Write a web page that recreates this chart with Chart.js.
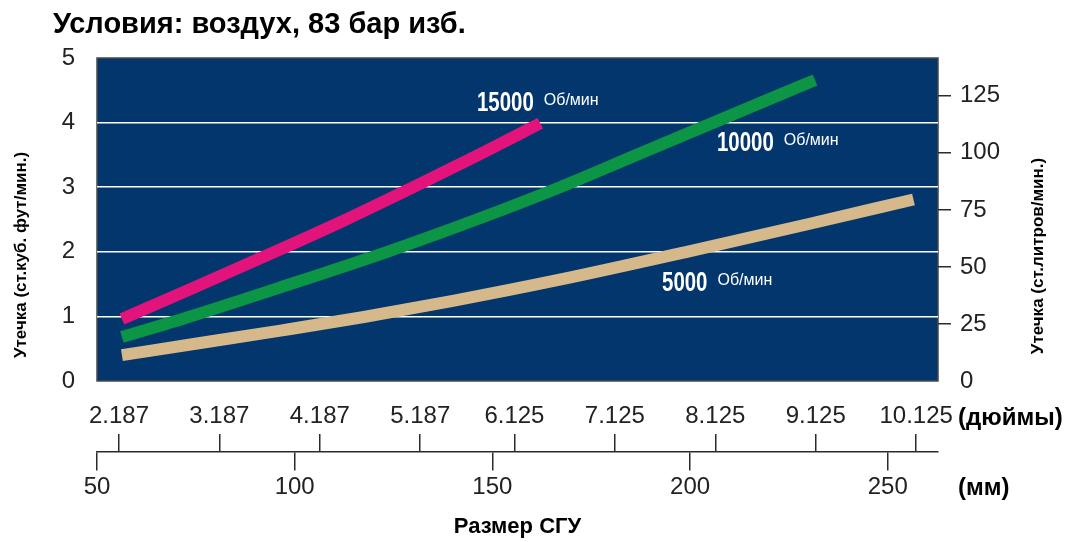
<!DOCTYPE html>
<html>
<head>
<meta charset="utf-8">
<script src="https://cdn.jsdelivr.net/npm/chart.js@4.4.1/dist/chart.umd.min.js"></script>
<style>
  html, body { margin: 0; padding: 0; background: #fff; }
</style>
</head>
<body>
<canvas id="leakChart" width="1070" height="542"></canvas>
<script>
// seal size in mm, leakage in std cu ft/min
const pinkMm = [56.3, 75, 95, 113, 130, 146.5, 162.1];
const pinkCfm = [0.96, 1.46, 2.0, 2.5, 3.0, 3.5, 3.99];
const greenMm = [56.3, 73.6, 96.4, 123.4, 146, 167.1, 186.5, 205.9, 231.6];
const greenCfm = [0.68, 1.0, 1.45, 2.0, 2.5, 3.0, 3.5, 4.0, 4.66];
const tanMm = [56.3, 75.3, 96.4, 117.5, 140, 166.4, 199.2, 230, 256.5];
const tanCfm = [0.40, 0.58, 0.78, 0.99, 1.24, 1.56, 2.0, 2.43, 2.81];

const seriesNames = ['15000', '10000', '5000'];
const rpmUnit = 'Об/мин';

const cfmTicks = [0, 1, 2, 3, 4, 5];
const literTicks = [0, 25, 50, 75, 100, 125];
const mmTicks = [50, 100, 150, 200, 250];
const inchLabels = ['2.187', '3.187', '4.187', '5.187', '6.125', '7.125', '8.125', '9.125', '10.125'];
const inchValues = [2.187, 3.187, 4.187, 5.187, 6.125, 7.125, 8.125, 9.125, 10.125];

const MM_PER_INCH = 25.4;
const LITERS_PER_CFM = 28.3168;

const sans = "'Liberation Sans', Arial, sans-serif";
const axisColor = '#2b2b2b';
const tickFont = { family: sans, size: 24 };

function toPoints(xs, ys) {
    return xs.map((x, i) => ({ x: x, y: ys[i] }));
}

// label anchors in data units (mm, cfm)
const seriesLabels = [
    { name: seriesNames[0], mm: 146.1, cfm: 4.3 },
    { name: seriesNames[1], mm: 206.8, cfm: 3.68 },
    { name: seriesNames[2], mm: 192.9, cfm: 1.51 }
];

// squeeze text horizontally to fake a condensed face
function narrowText(ctx, text, x, y, squeeze) {
    ctx.save();
    ctx.translate(x, y);
    ctx.scale(squeeze, 1);
    ctx.fillText(text, 0, 0);
    ctx.restore();
    return ctx.measureText(text).width * squeeze;
}

const decor = {
    id: 'decor',
    beforeDraw(chart) {
        const ctx = chart.ctx;
        const a = chart.chartArea;
        ctx.save();
        ctx.fillStyle = '#fff';
        ctx.fillRect(0, 0, chart.width, chart.height);
        ctx.fillStyle = '#04366e';
        ctx.fillRect(a.left, a.top, a.right - a.left, a.bottom - a.top);
        ctx.strokeStyle = '#4a4a4a';
        ctx.lineWidth = 1.5;
        ctx.strokeRect(a.left, a.top, a.right - a.left, a.bottom - a.top);
        ctx.restore();
    },
    afterDraw(chart) {
        const ctx = chart.ctx;
        const a = chart.chartArea;
        const x = chart.scales.x;
        const y = chart.scales.y;
        ctx.save();
        ctx.fillStyle = '#000';
        ctx.textBaseline = 'middle';

        ctx.font = 'bold 29px ' + sans;
        ctx.textAlign = 'left';
        ctx.fillText('Условия: воздух, 83 бар изб.', 53, 25);

        ctx.font = 'bold 24px ' + sans;
        ctx.fillText('(дюймы)', 958, 418);
        ctx.fillText('(мм)', 958, 488);

        ctx.textAlign = 'center';
        ctx.font = 'bold 22px ' + sans;
        ctx.fillText('Размер СГУ', (a.left + a.right) / 2, 527);

        ctx.font = 'bold 17px ' + sans;
        ctx.save();
        ctx.translate(21, 255);
        ctx.rotate(-Math.PI / 2);
        ctx.fillText('Утечка (ст.куб. фут/мин.)', 0, 0);
        ctx.restore();
        ctx.save();
        ctx.translate(1038, 256);
        ctx.rotate(-Math.PI / 2);
        ctx.fillText('Утечка (ст.литров/мин.)', 0, 0);
        ctx.restore();

        // rpm labels inside the plot
        ctx.fillStyle = '#fff';
        ctx.textAlign = 'left';
        seriesLabels.forEach(l => {
            const px = x.getPixelForValue(l.mm);
            const py = y.getPixelForValue(l.cfm);
            ctx.font = 'bold 28px ' + sans;
            const w = narrowText(ctx, l.name, px, py, 0.73);
            ctx.font = '16px ' + sans;
            ctx.fillText(rpmUnit, px + w + 10, py - 3);
        });
        ctx.restore();
    }
};

const lineStyle = {
    borderWidth: 12,
    borderCapStyle: 'butt',
    pointRadius: 0,
    fill: false,
    cubicInterpolationMode: 'monotone',
    xAxisID: 'x',
    yAxisID: 'y'
};

const ctx = document.getElementById('leakChart').getContext('2d');
new Chart(ctx, {
    type: 'line',
    data: {
        datasets: [
            Object.assign({ label: seriesNames[2], data: toPoints(tanMm, tanCfm), borderColor: '#d6b98a' }, lineStyle),
            Object.assign({ label: seriesNames[1], data: toPoints(greenMm, greenCfm), borderColor: '#0b9545' }, lineStyle),
            Object.assign({ label: seriesNames[0], data: toPoints(pinkMm, pinkCfm), borderColor: '#e2147b' }, lineStyle)
        ]
    },
    options: {
        responsive: false,
        animation: false,
        layout: { padding: { left: 0, right: 0, top: 58, bottom: 161 } },
        plugins: {
            legend: { display: false },
            tooltip: { enabled: false }
        },
        scales: {
            y: {
                position: 'left',
                min: 0,
                max: 5,
                afterBuildTicks: s => { s.ticks = cfmTicks.map(v => ({ value: v })); },
                afterFit: s => { s.width = 97; },
                border: { display: false },
                grid: {
                    color: c => (c.tick && c.tick.value > 0 && c.tick.value < 5) ? '#ffffff' : 'rgba(0,0,0,0)',
                    lineWidth: 1.5,
                    drawTicks: false
                },
                ticks: { color: '#222', padding: 22, font: tickFont }
            },
            yL: {
                position: 'right',
                min: 0,
                max: 5 * LITERS_PER_CFM,
                afterBuildTicks: s => { s.ticks = literTicks.map(v => ({ value: v })); },
                afterFit: s => { s.width = 132; },
                border: { display: false },
                grid: {
                    drawOnChartArea: false,
                    tickLength: 13,
                    lineWidth: 1.5,
                    color: c => (c.tick && c.tick.value === 0) ? 'rgba(0,0,0,0)' : axisColor
                },
                ticks: { color: '#222', padding: 9, font: tickFont }
            },
            x: {
                type: 'linear',
                position: { y: -1.09 },
                min: 50,
                max: 262.7,
                afterBuildTicks: s => { s.ticks = mmTicks.map(v => ({ value: v })); },
                border: { display: true, color: axisColor, width: 1.5 },
                grid: { drawOnChartArea: false, tickLength: 18, color: axisColor, lineWidth: 1.5 },
                ticks: { color: '#222', padding: 4, maxRotation: 0, autoSkip: false, font: tickFont }
            },
            xIn: {
                type: 'linear',
                position: { y: -1.09 },
                min: 50,
                max: 262.7,
                afterBuildTicks: s => { s.ticks = inchValues.map(v => ({ value: v * MM_PER_INCH })); },
                border: { display: false },
                grid: { drawOnChartArea: false, tickLength: -17, color: axisColor, lineWidth: 1.5 },
                ticks: {
                    color: '#222',
                    padding: -32,
                    maxRotation: 0,
                    autoSkip: false,
                    font: tickFont,
                    callback: (v, i) => inchLabels[i]
                }
            }
        }
    },
    plugins: [decor]
});
</script>
</body>
</html>
